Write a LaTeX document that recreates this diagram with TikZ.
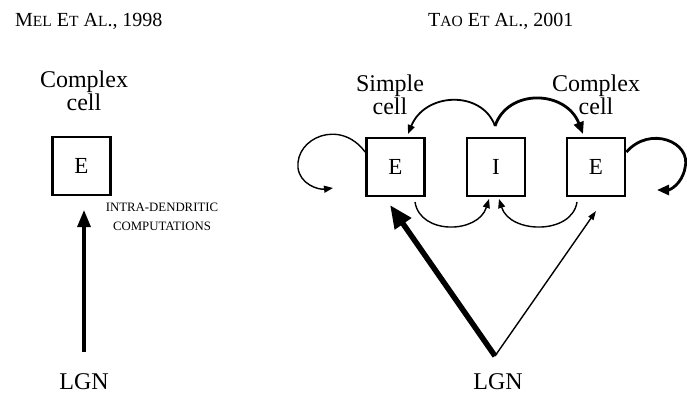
\documentclass[tikz,border=0pt]{standalone}
\usepackage{fontspec}
\setmainfont{Liberation Serif}
\usetikzlibrary{arrows.meta}
\newcommand{\mysc}[2]{{\fontsize{20}{24}\selectfont #1}{\fontsize{15.5}{18}\selectfont #2}}
\begin{document}
\begin{tikzpicture}[x=1pt,y=-1pt,
  cellbox/.style={draw,line width=2.8pt,minimum size=58pt,inner sep=0pt,font=\fontsize{23}{24}\selectfont},
  lbl/.style={align=center,font=\fontsize{24}{23}\selectfont,inner sep=0pt},
  ttl/.style={anchor=west,inner sep=0pt,font=\fontsize{20}{24}\selectfont},
  conn/.style={line width=1.4pt,-{Triangle[length=9pt,width=7pt]}},
  connb/.style={line width=2.8pt,-{Triangle[length=12pt,width=10pt]}}
]
\useasboundingbox (0,0) rectangle (687,393);
% titles
\node[ttl] (t1) at (15,21) {\mysc{M}{EL} \mysc{E}{T} \mysc{A}{L}., 1998};
\node[ttl] (t2) at (428,21) {\mysc{T}{AO} \mysc{E}{T} \mysc{A}{L}., 2001};
% left panel
\node[lbl] (lc) at (84,91) {Complex\\cell};
\node[cellbox] (le) at (81.5,166) {E};
\node[align=center,inner sep=0pt,font=\fontsize{12.8}{19}\selectfont] (idc) at (162,217) {INTRA-DENDRITIC\\COMPUTATIONS};
\node[lbl,anchor=base] (lgn1) at (84,389) {LGN};
\coordinate (l0) at (84,352);
\coordinate (l1) at (84,210);
\draw[line width=3.2pt,-{Triangle[length=17pt,width=13pt]}] (l0) -- (l1);
% right panel
\node[lbl] (sc) at (390,95) {Simple\\cell};
\node[lbl] (cc) at (596,95) {Complex\\cell};
\node[cellbox] (e1) at (395.5,167) {E};
\node[cellbox] (ii) at (496,167) {I};
\node[cellbox] (e2) at (596,167) {E};
\node[lbl,anchor=base] (lgn2) at (498,389) {LGN};
% top arcs
\coordinate (top) at (495,126);
\draw[conn,line width=1.8pt] (top) .. controls (482,90) and (425,92) .. (408,134);
\draw[connb] (top) .. controls (508,88) and (566,90) .. (583,134);
% self loops
\draw[conn] (e1.west |- 0,152) .. controls (340,118) and (295,138) .. (298,168) .. controls (300,184) and (318,190) .. (333,188);
\draw[connb] (e2.east |- 0,152) .. controls (650,125) and (692,142) .. (685,168) .. controls (682,184) and (670,190) .. (657,190);
% bottom arcs
\draw[conn] (415,202) .. controls (420,235) and (478,234) .. (489,199);
\draw[conn] (577,202) .. controls (572,235) and (510,234) .. (499,199);
% LGN inputs
\coordinate (g) at (495,356);
\draw[line width=5.5pt,-{Triangle[length=23pt,width=19pt]}] (g) -- (390,205);
\draw[line width=1.4pt,-{Triangle[length=9pt,width=6pt]}] (g) -- (596,211);
\end{tikzpicture}
\end{document}
